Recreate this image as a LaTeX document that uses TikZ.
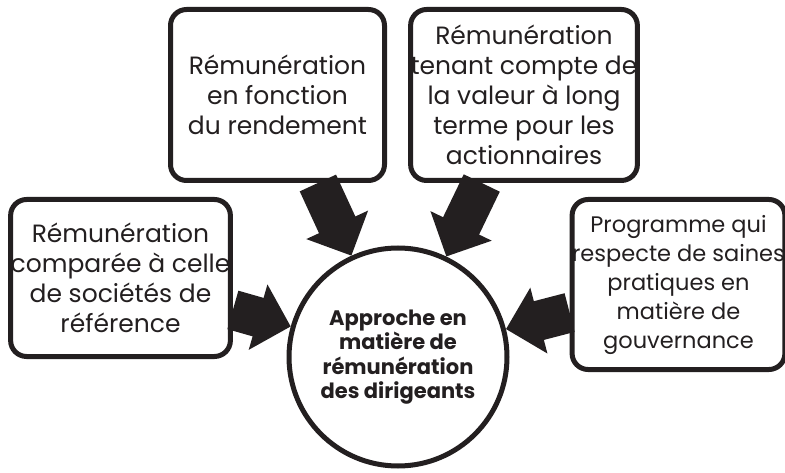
\documentclass[tikz,border=0pt]{standalone}
\usepackage{fontspec}
\setmainfont{Poppins}
\usetikzlibrary{arrows.meta}
\definecolor{inkgray}{HTML}{231F20}

\tikzset{
	critbox/.style={draw=inkgray, line width=5pt, rounded corners=16pt, fill=white, align=center, inner sep=0pt, text=inkgray, font=\fontsize{25}{30}\selectfont},
	hubcircle/.style={draw=inkgray, line width=5pt, circle, fill=white, align=center, inner sep=0pt, minimum size=218pt, text=inkgray, font=\fontsize{21}{24.5}\selectfont\bfseries},
	bigarrow/.style={draw=inkgray, line width=40pt, -{Triangle[length=34pt, width=66pt]}}
}

\begin{document}
\begin{tikzpicture}[x=1pt, y=-1pt]
	\useasboundingbox (0,0) rectangle (785,473);
	
	\node[critbox, minimum width=216pt, minimum height=157pt] (lbox) at (120.5,278) {Rémunération\\comparée à celle\\de sociétés de\\référence};
	\node[critbox, minimum width=214pt, minimum height=171pt] (tbox) at (277.5,95) {Rémunération\\en fonction\\du rendement};
	\node[critbox, minimum width=213pt, minimum height=171pt] (trbox) at (524,95) {Rémunération\\tenant compte de\\la valeur à long\\terme pour les\\actionnaires};
	\node[critbox, minimum width=202pt, minimum height=170pt, font=\fontsize{22.5}{29}\selectfont] (rbox) at (678.5,284.5) {Programme qui\\respecte de saines\\pratiques en\\matière de\\gouvernance};
	\node[hubcircle] (hub) at (398,357) {Approche en\\matière de\\rémunération\\des dirigeants};
	
	\draw[bigarrow] (lbox) -- (hub);
	\draw[bigarrow] (tbox) -- (hub);
	\draw[bigarrow] (trbox) -- (hub);
	\draw[bigarrow] (rbox) -- (hub);
\end{tikzpicture}
\end{document}
